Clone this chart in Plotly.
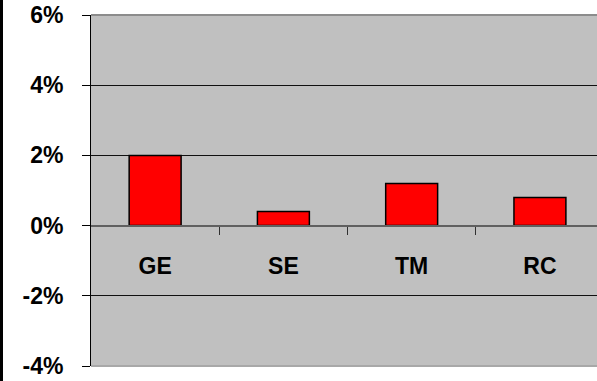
import plotly.graph_objects as go

# Growth by segment (percent)
categories = ["GE", "SE", "TM", "RC"]
growth_pct = [2.0, 0.4, 1.2, 0.8]

y_ticks = [-4, -2, 0, 2, 4, 6]
y_tick_labels = ["-4%", "-2%", "0%", "2%", "4%", "6%"]

W, H = 597, 381
ML, MR, MT, MB = 91, 0, 15, 15
plot_w = W - ML - MR
plot_h = H - MT - MB
y_min, y_max = -4, 6
x_range = [-0.5, 3.445]
zero_pos = (0 - y_min) / (y_max - y_min)

font_main = dict(family="Arial, Liberation Sans, sans-serif", size=23, color="black", weight="bold")

fig = go.Figure(
    go.Bar(
        x=list(range(len(categories))),
        y=growth_pct,
        marker=dict(color="#FF0000", line=dict(color="black", width=1.5)),
        width=0.405,
    )
)

# invisible trace to activate the divider-tick axis
fig.add_trace(go.Scatter(x=[None], y=[None], xaxis="x2", yaxis="y", showlegend=False))

fig.update_layout(
    width=W,
    height=H,
    margin=dict(l=ML, r=MR, t=MT, b=MB),
    paper_bgcolor="white",
    plot_bgcolor="#C0C0C0",
    showlegend=False,
    xaxis=dict(
        range=x_range,
        tickvals=list(range(len(categories))),
        ticktext=categories,
        anchor="free",
        position=zero_pos,
        showline=True,
        linecolor="#606060",
        linewidth=2,
        ticks="",
        ticklabelstandoff=20,
        tickfont=font_main,
        showgrid=False,
        zeroline=False,
    ),
    # category dividers drawn as ticks between the groups
    xaxis2=dict(
        range=x_range,
        overlaying="x",
        anchor="free",
        position=zero_pos,
        side="bottom",
        tickvals=[i + 0.5 for i in range(len(categories) - 1)],
        showticklabels=False,
        ticks="outside",
        ticklen=8,
        tickcolor="#303030",
        tickwidth=1,
        showline=False,
        showgrid=False,
        zeroline=False,
    ),
    yaxis=dict(
        range=[y_min, y_max],
        tickvals=y_ticks,
        ticktext=y_tick_labels,
        showline=True,
        linecolor="black",
        linewidth=1,
        ticks="outside",
        ticklen=8,
        tickcolor="black",
        tickwidth=1,
        ticklabelstandoff=14,
        tickfont=font_main,
        showgrid=True,
        gridcolor="#101010",
        gridwidth=1,
        zeroline=False,
    ),
    shapes=[
        # top border of the plot area
        dict(type="line", xref="paper", yref="paper", x0=0, x1=1, y0=1, y1=1,
             line=dict(color="#8C8C8C", width=2), layer="above"),
        # bottom border of the plot area
        dict(type="line", xref="paper", yref="paper", x0=0, x1=1, y0=0, y1=0,
             line=dict(color="#A8A8A8", width=2), layer="above"),
        # black rule along the left edge of the page
        dict(type="rect", xref="paper", yref="paper",
             x0=-ML / plot_w, x1=(-ML + 3) / plot_w,
             y0=-MB / plot_h, y1=1 + MT / plot_h,
             fillcolor="black", line=dict(width=0)),
    ],
)

fig.write_html("out.html")
